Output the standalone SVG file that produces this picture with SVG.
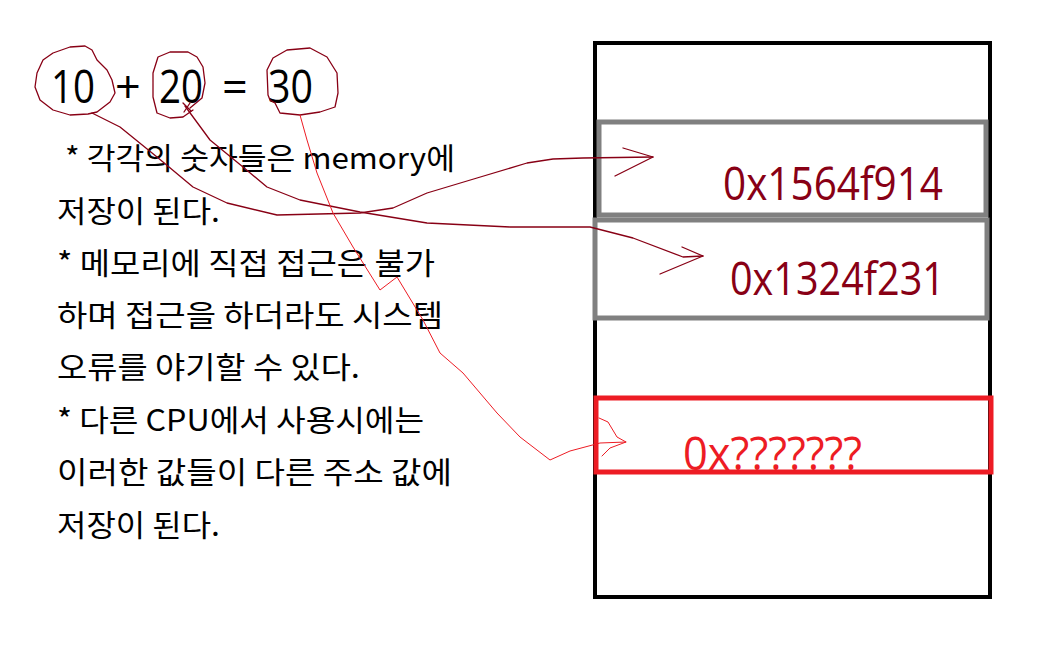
<svg xmlns="http://www.w3.org/2000/svg" width="1046" height="651" viewBox="0 0 1046 651">
<style>
.eq{font-family:"Open Sans","Noto Sans",sans-serif;font-size:45px;fill:#000}
.kr{font-family:"Noto Sans CJK KR","Noto Sans",sans-serif;font-size:30px;fill:#000}
.addr{font-family:"Open Sans","Noto Sans",sans-serif;font-size:45px;fill:#880015}
.addr2{font-family:"Open Sans","Noto Sans",sans-serif;font-size:45px;fill:#ED1C24}
.hand{fill:none;stroke:#880015;stroke-width:1.3;stroke-linejoin:round;stroke-linecap:round}
.hand2{fill:none;stroke:#ED1C24;stroke-width:1;stroke-linejoin:round;stroke-linecap:round}
</style>
<rect width="1046" height="651" fill="#fff"/>
<g id="memory">
<rect x="595" y="43" width="395" height="554" fill="none" stroke="#000" stroke-width="4"/>
</g>
<g id="cell1">
<rect x="599" y="122" width="387" height="93" fill="none" stroke="#808080" stroke-width="5"/>
<text class="addr" x="723" y="200" textLength="220" lengthAdjust="spacingAndGlyphs">0x1564f914</text>
</g>
<g id="cell2">
<rect x="595" y="220" width="392" height="98" fill="none" stroke="#808080" stroke-width="5"/>
<text class="addr" x="730" y="295" textLength="215" lengthAdjust="spacingAndGlyphs">0x1324f231</text>
</g>
<g id="cell3">
<rect x="596" y="398" width="395" height="74" fill="none" stroke="#ED1C24" stroke-width="5"/>
<text class="addr2" x="683" y="470" textLength="179" lengthAdjust="spacingAndGlyphs">0x???????</text>
</g>
<g id="equation">
<text class="eq" x="51" y="103" textLength="44" lengthAdjust="spacingAndGlyphs">10</text>
<text class="eq" x="115" y="103">+</text>
<text class="eq" x="159" y="103" textLength="44" lengthAdjust="spacingAndGlyphs">20</text>
<text class="eq" x="222" y="103">=</text>
<text class="eq" x="268" y="103" textLength="45" lengthAdjust="spacingAndGlyphs">30</text>
<path class="hand" d="M97,112 L110,102 L115,93 L112,80 L107,70 L97,60 L92,50 L85,46 L70,47 L53,53 L43,60 L37,73 L35,87 L40,100 L53,110 L70,115 L88,114 L97,112"/>
<path class="hand" d="M190,108 L202,98 L205,83 L203,67 L197,57 L188,52 L170,52 L158,57 L153,73 L153,97 L157,113 L170,118 L183,117 L193,110"/>
<path class="hand" d="M270,100 L268,95 L267,70 L273,58 L287,50 L310,48 L327,57 L337,73 L338,93 L335,107 L320,112 L300,115 L280,113 L275,103 L270,100"/>
</g>
<g id="notes">
<text class="kr" x="65" y="169" textLength="390" lengthAdjust="spacingAndGlyphs">* 각각의 숫자들은 memory에</text>
<text class="kr" x="57" y="222" textLength="163" lengthAdjust="spacingAndGlyphs">저장이 된다.</text>
<text class="kr" x="57" y="274" textLength="378" lengthAdjust="spacingAndGlyphs">* 메모리에 직접 접근은 불가</text>
<text class="kr" x="57" y="326" textLength="386" lengthAdjust="spacingAndGlyphs">하며 접근을 하더라도 시스템</text>
<text class="kr" x="57" y="378" textLength="303" lengthAdjust="spacingAndGlyphs">오류를 야기할 수 있다.</text>
<text class="kr" x="57" y="431" textLength="367" lengthAdjust="spacingAndGlyphs">* 다른 CPU에서 사용시에는</text>
<text class="kr" x="57" y="483" textLength="395" lengthAdjust="spacingAndGlyphs">이러한 값들이 다른 주소 값에</text>
<text class="kr" x="57" y="536" textLength="163" lengthAdjust="spacingAndGlyphs">저장이 된다.</text>
</g>
<g id="connectors">
<path class="hand" d="M92,113 L120,127 L157,157 L193,187 L227,203 L277,215 L360,213 L393,208 L427,193 L477,178 L527,163 L553,159 L583,158 L653,157"/>
<path class="hand" d="M623,148 L653,157 L615,176"/>
<path class="hand" d="M185,106 L210,140 L243,167 L267,187 L300,200 L360,212 L427,223 L510,227 L590,227 L633,238 L683,257 L703,256"/>
<path class="hand" d="M682,247 L703,256 L660,274"/>
<path class="hand" d="M183,103 L191,111 M190,103 L184,112"/>
<path class="hand2" d="M300,115 L307,140 L317,173 L333,213 L353,247 L380,290 L397,277 L423,320 L440,353 L463,373 L497,413 L520,437 L550,460 L570,451 L600,443 L626,442"/>
<path class="hand2" d="M599,418 L608,422 L617,437 L626,442 L610,448 L602,456"/>
</g>
</svg>
